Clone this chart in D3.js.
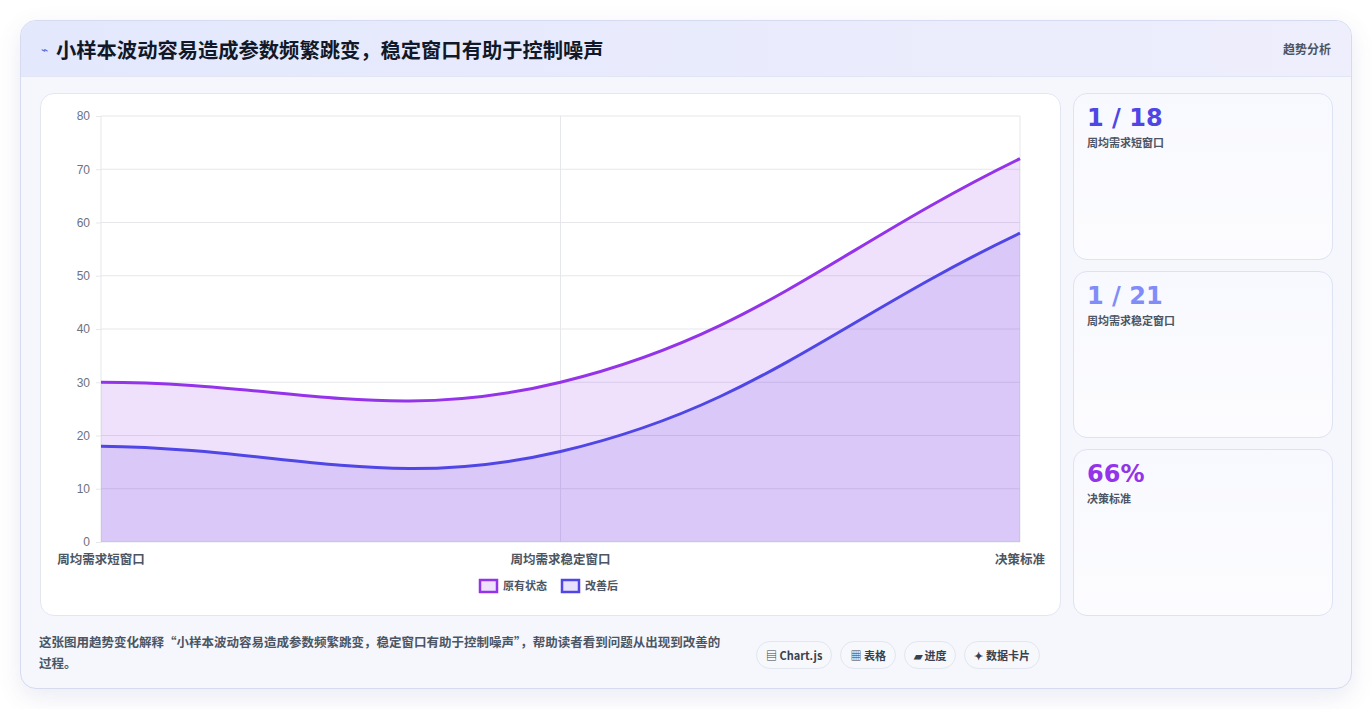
<!DOCTYPE html>
<html><head><meta charset="utf-8">
<script src="https://cdn.jsdelivr.net/npm/d3@7"></script>
<style>
body{margin:0;background:#fff;font-family:"Noto Sans CJK SC","Noto Sans",sans-serif;}
.wrap{position:absolute;left:20px;top:20px;width:1330px;height:667px;border:1px solid #d6dbf0;border-radius:16px;background:#f5f7fd;box-shadow:0 8px 24px rgba(80,90,160,.12);overflow:hidden}
.head{height:55px;background:linear-gradient(90deg,#e3e8fd,#eeeefc);border-bottom:1px solid #e2e6f4;display:flex;align-items:center;padding:0 20px}
.head h1{font-size:20.3px;margin:0;color:#111827;font-weight:700}
.head .ic{color:#4f6bdc;font-size:12px;margin-right:8px}
.head .r{margin-left:auto;font-size:12px;color:#4b5563;font-weight:700}
.chart{position:absolute;left:19px;top:72px;width:1019px;height:521px;background:#fff;border:1px solid #e2e6f0;border-radius:14px}
.card{position:absolute;left:1052px;width:258px;background:linear-gradient(180deg,#f8f9fe,#fcfcff);border:1px solid #dde3f3;border-radius:14px}
.card .v{font-size:24px;font-weight:900;margin:10px 0 0 13px;font-family:"DejaVu Sans",sans-serif}
.card .l{font-size:11px;color:#4b5563;margin:2px 0 0 13px;font-weight:700}
.foot{position:absolute;left:18px;top:610px;width:688px;font-size:12.5px;line-height:21px;color:#4b5563;font-weight:700}
.tags{position:absolute;left:735px;top:620px;display:flex;gap:8px}
.tag{font-size:11px;font-weight:700;color:#374151;background:#f7f8fb;border:1px solid #e2e6ef;border-radius:14px;padding:5px 9px}
</style></head><body>
<div class="wrap">
 <div class="head"><span class="ic">⌁</span><h1>小样本波动容易造成参数频繁跳变，稳定窗口有助于控制噪声</h1><span class="r">趋势分析</span></div>
 <div class="chart"><svg id="c" width="1019" height="521"></svg></div>
 <div class="card" style="top:72px;height:165px"><div class="v" style="color:#4f46e5">1 / 18</div><div class="l">周均需求短窗口</div></div>
 <div class="card" style="top:250px;height:165px"><div class="v" style="color:#818cf8">1 / 21</div><div class="l">周均需求稳定窗口</div></div>
 <div class="card" style="top:428px;height:165px"><div class="v" style="color:#9333ea">66%</div><div class="l">决策标准</div></div>
 <div class="foot">这张图用趋势变化解释“小样本波动容易造成参数频繁跳变，稳定窗口有助于控制噪声”，帮助读者看到问题从出现到改善的过程。</div>
 <div class="tags"><span class="tag">▤ Chart.js</span><span class="tag">▦ 表格</span><span class="tag">▰ 进度</span><span class="tag">✦ 数据卡片</span></div>
</div>
<script>
const categories = ["周均需求短窗口", "周均需求稳定窗口", "决策标准"];
const original = [30, 30, 72];
const improved = [18, 17, 58];
const yTicks = [0, 10, 20, 30, 40, 50, 60, 70, 80];
const seriesNames = ["原有状态", "改善后"];

const svg = d3.select("#c");
const x = d3.scalePoint().domain(categories).range([60, 979]);
const y = d3.scaleLinear().domain([0, 80]).range([448, 22]);

const grid = svg.append("g");
grid.selectAll("line.h").data(yTicks).enter().append("line")
  .attr("x1", 60).attr("x2", 979).attr("y1", d => y(d)).attr("y2", d => y(d))
  .attr("stroke", "#e5e7eb");
grid.selectAll("line.v").data(categories).enter().append("line")
  .attr("x1", d => x(d)).attr("x2", d => x(d)).attr("y1", 22).attr("y2", 448)
  .attr("stroke", "#e5e7eb");

const yAxis = svg.append("g").attr("transform", "translate(60,0)")
  .call(d3.axisLeft(y).tickValues(yTicks).tickSize(5).tickPadding(6));
yAxis.select(".domain").remove();
yAxis.selectAll("line").attr("stroke", "#e5e7eb");
yAxis.selectAll("text").attr("fill", "#6b7280").style("font-size", "12px").style("font-family", "Liberation Sans, Arial");

svg.selectAll("text.xl").data(categories).enter().append("text")
  .attr("x", d => x(d)).attr("y", 470).attr("text-anchor", "middle")
  .attr("fill", "#4b5563").style("font-size", "12.5px").style("font-weight", 700).text(d => d);

// Chart.js style bezier (tension 0.4)
function spline(pts, t = 0.4) {
  const p = d3.path();
  const cps = pts.map((c, i) => {
    const pr = pts[i - 1] || c, nx = pts[i + 1] || c;
    const d01 = Math.hypot(c[0] - pr[0], c[1] - pr[1]);
    const d12 = Math.hypot(nx[0] - c[0], nx[1] - c[1]);
    let s01 = d01 / (d01 + d12) || 0, s12 = d12 / (d01 + d12) || 0;
    const fa = t * s01, fb = t * s12;
    return {
      prev: [c[0] - fa * (nx[0] - pr[0]), c[1] - fa * (nx[1] - pr[1])],
      next: [c[0] + fb * (nx[0] - pr[0]), c[1] + fb * (nx[1] - pr[1])]
    };
  });
  p.moveTo(pts[0][0], pts[0][1]);
  for (let i = 1; i < pts.length; i++) {
    const a = cps[i - 1].next, b = cps[i].prev;
    p.bezierCurveTo(a[0], a[1], b[0], b[1], pts[i][0], pts[i][1]);
  }
  return p.toString();
}

const series = [
  {vals: original, stroke: "#9333ea", fill: "rgba(147,51,234,0.15)"},
  {vals: improved, stroke: "#4f46e5", fill: "rgba(120,80,230,0.17)"}
];
series.forEach(s => {
  const pts = s.vals.map((v, i) => [x(categories[i]), y(v)]);
  const last = pts[pts.length - 1];
  svg.append("path")
    .attr("d", spline(pts) + `L${last[0]},${y(0)}L${pts[0][0]},${y(0)}Z`)
    .attr("fill", s.fill);
});
series.forEach(s => {
  const pts = s.vals.map((v, i) => [x(categories[i]), y(v)]);
  svg.append("path").attr("d", spline(pts))
    .attr("fill", "none").attr("stroke", s.stroke).attr("stroke-width", 3);
});

const lg = svg.append("g").attr("transform", "translate(439,486)");
const lx = [0, 82];
seriesNames.forEach((n, i) => {
  const g = lg.append("g").attr("transform", `translate(${lx[i]},0)`);
  g.append("rect").attr("width", 17).attr("height", 12).attr("fill", series[i].fill)
    .attr("stroke", series[i].stroke).attr("stroke-width", 2.5);
  g.append("text").attr("x", 23).attr("y", 10).attr("fill", "#4b5563")
    .style("font-size", "11px").style("font-weight", 700).text(n);
});
</script>
</body></html>
